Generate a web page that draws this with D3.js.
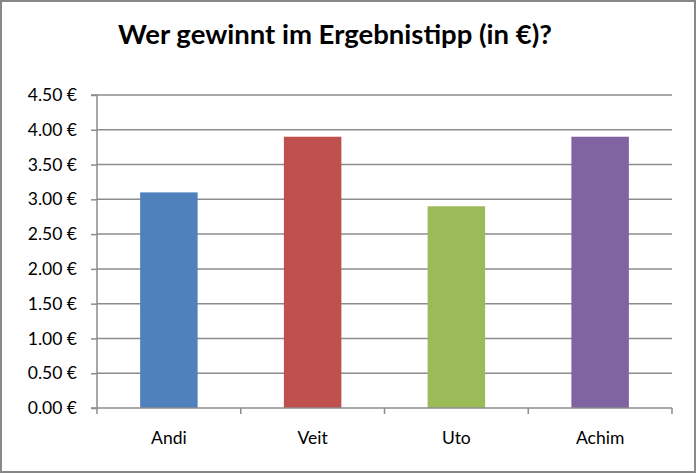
<!DOCTYPE html>
<html><head><meta charset="utf-8">
<script src="https://cdn.jsdelivr.net/npm/d3@7"></script>
<style>body{margin:0;background:#fff}svg{display:block}</style>
</head><body>
<script>
const categories = ["Andi", "Veit", "Uto", "Achim"];
const values = [3.10, 3.90, 2.90, 3.90];
const colors = ["#4F81BD", "#C0504D", "#9BBB59", "#8064A2"];
const yTicks = [0, 0.5, 1, 1.5, 2, 2.5, 3, 3.5, 4, 4.5];
const title = "Wer gewinnt im Ergebnistipp (in €)?";

const W = 697, H = 474;
const m = {left: 97, right: 25, top: 95, bottom: 66};
const svg = d3.select("body").append("svg").attr("width", W).attr("height", H);
svg.append("rect").attr("x", 1).attr("y", 1).attr("width", W - 3).attr("height", H - 3)
  .attr("fill", "#fff").attr("stroke", "#888").attr("stroke-width", 2);

const x = d3.scaleBand().domain(categories).range([m.left, W - m.right]).paddingInner(0.6).paddingOuter(0.3);
const xb = d3.scaleBand().domain(categories).range([m.left, W - m.right]);
const y = d3.scaleLinear().domain([0, 4.5]).range([H - m.bottom, m.top]);

const font = "Lato, 'Open Sans', sans-serif";

svg.append("text").attr("x", 335).attr("y", 44).attr("text-anchor", "middle")
  .attr("font-family", font).attr("font-weight", "bold").attr("font-size", 27.5).attr("fill", "#000")
  .text(title);

// gridlines
svg.append("g").selectAll("line").data(yTicks.filter(d => d > 0)).join("line")
  .attr("x1", m.left).attr("x2", W - m.right).attr("y1", d => y(d)).attr("y2", d => y(d))
  .attr("stroke", "#8c8c8c").attr("stroke-width", 1.5);

// bars
svg.append("g").selectAll("rect").data(categories).join("rect")
  .attr("x", d => x(d)).attr("width", x.bandwidth())
  .attr("y", (d, i) => y(values[i])).attr("height", (d, i) => y(0) - y(values[i]))
  .attr("fill", (d, i) => colors[i]);

// y axis
const yAxis = d3.axisLeft(y).tickValues(yTicks).tickSize(6).tickPadding(14)
  .tickFormat(d => d3.format(".2f")(d) + " €");
const gy = svg.append("g").attr("transform", `translate(${m.left},0)`).call(yAxis);
gy.select(".domain").attr("stroke", "#8c8c8c").attr("stroke-width", 1.5).attr("d", `M-6,${y(0)}H0V${m.top}H-6`);
gy.selectAll(".tick line").attr("stroke", "#8c8c8c").attr("stroke-width", 1.5);
gy.selectAll("text").attr("font-family", font).attr("font-size", 17.5).attr("fill", "#000");

// x axis
const gx = svg.append("g").attr("transform", `translate(0,${y(0)})`);
gx.append("line").attr("x1", m.left).attr("x2", W - m.right).attr("stroke", "#8c8c8c").attr("stroke-width", 1.5);
const bounds = categories.map(c => xb(c)).concat([W - m.right]);
gx.selectAll("line.t").data(bounds).join("line").attr("class", "t")
  .attr("x1", d => d).attr("x2", d => d).attr("y1", 0).attr("y2", 6)
  .attr("stroke", "#8c8c8c").attr("stroke-width", 1.5);
gx.selectAll("text").data(categories).join("text")
  .attr("x", d => xb(d) + xb.bandwidth() / 2).attr("y", 36).attr("text-anchor", "middle")
  .attr("font-family", font).attr("font-size", 17.5).attr("fill", "#000").text(d => d);
</script>
</body></html>
